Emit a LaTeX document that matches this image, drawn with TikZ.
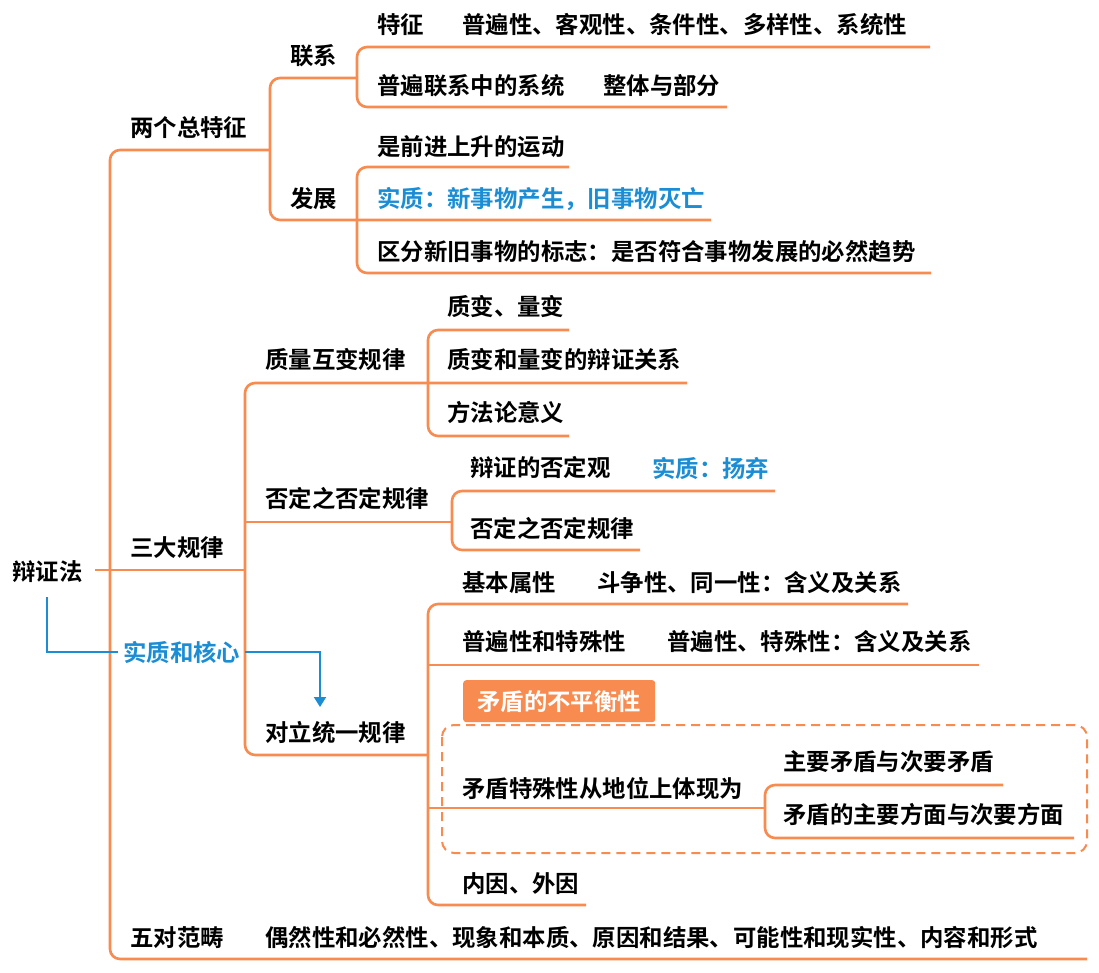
\documentclass[tikz,border=0pt]{standalone}
\usepackage{fontspec}
\setmainfont{Noto Sans CJK SC}[BoldFont={Noto Sans CJK SC Bold}]
\usetikzlibrary{arrows.meta}
\definecolor{mmorange}{RGB}{248,139,80}
\definecolor{mmblue}{RGB}{27,141,212}

\begin{document}
\begin{tikzpicture}[x=1pt, y=-1pt, font=\fontsize{23.4}{27}\selectfont\bfseries,
	txt/.style={anchor=west, inner sep=0pt},
	hint/.style={txt, text=mmblue},
	branch/.style={draw=mmorange, line width=2.6pt, rounded corners=10pt},
	pointer/.style={draw=mmblue, line width=2pt}]
	\path[use as bounding box, fill=white] (0,0) rectangle (1099,973);
	% trunk and first level
	\draw[branch] (270,150) -- (110,150) -- (110,959) -- (1087,959);
	\draw[branch] (95,570) -- (245,570);
	\draw[branch] (357,78) -- (270,78) -- (270,220) -- (711,220);
	\draw[branch] (930,47) -- (357,47) -- (357,107) -- (727,107);
	\draw[branch] (569,167) -- (357,167) -- (357,273) -- (931,273);
	\draw[branch] (687,383) -- (245,383) -- (245,755) -- (428,755);
	\draw[branch] (245,522) -- (452,522);
	\draw[branch] (569,330) -- (428,330) -- (428,436) -- (569,436);
	\draw[branch] (775,491) -- (452,491) -- (452,550) -- (640,550);
	\draw[branch] (908,604) -- (428,604) -- (428,905) -- (586,905);
	\draw[branch] (428,665) -- (979,665);
	\draw[branch] (428,808) -- (765,808);
	\draw[branch] (1003,785) -- (765,785) -- (765,838) -- (1074,838);
	\draw[mmorange, line width=2pt, dash pattern=on 9pt off 6pt, rounded corners=12pt] (442,725) rectangle (1087,853);

	\node[txt] (root) at (12,572) {辩证法};
	\node[txt] (feat) at (130,128) {两个总特征};
	\node[txt] (link) at (290,56) {联系};
	\node[txt] (dev) at (290,199) {发展};
	\node[txt] (linkA) at (377,25) {特征};
	\node[txt] (linkAa) at (462,25) {普遍性、客观性、条件性、多样性、系统性};
	\node[txt] (linkB) at (377,86) {普遍联系中的系统};
	\node[txt] (linkBa) at (603,86) {整体与部分};
	\node[txt] (devA) at (377,147) {是前进上升的运动};
	\node[hint] (devB) at (377,199) {实质：新事物产生，旧事物灭亡};
	\node[txt] (devC) at (377,252) {区分新旧事物的标志：是否符合事物发展的必然趋势};
	\node[txt] (laws) at (130,548) {三大规律};
	\node[txt] (qq) at (265,360) {质量互变规律};
	\node[txt] (qqA) at (447,307) {质变、量变};
	\node[txt] (qqB) at (447,360) {质变和量变的辩证关系};
	\node[txt] (qqC) at (447,413) {方法论意义};
	\node[txt] (neg) at (265,498) {否定之否定规律};
	\node[txt] (negA) at (470,468) {辩证的否定观};
	\node[hint] (negAa) at (652,468) {实质：扬弃};
	\node[txt] (negB) at (470,528) {否定之否定规律};
	\node[txt] (uni) at (265,733) {对立统一规律};
	\node[txt] (uniA) at (462,583) {基本属性};
	\node[txt] (uniAa) at (597,583) {斗争性、同一性：含义及关系};
	\node[txt] (uniB) at (462,642) {普遍性和特殊性};
	\node[txt] (uniBa) at (667,642) {普遍性、特殊性：含义及关系};
	\node[fill=mmorange, text=white, rounded corners=3pt, anchor=north west, minimum width=192pt, minimum height=42pt, inner sep=0pt] (imbal) at (463,680) {矛盾的不平衡性};
	\node[txt] (uniC) at (462,788) {矛盾特殊性从地位上体现为};
	\node[txt] (uniCa) at (783,762) {主要矛盾与次要矛盾};
	\node[txt] (uniCb) at (783,815) {矛盾的主要方面与次要方面};
	\node[txt] (uniD) at (462,884) {内因、外因};
	\node[txt] (five) at (130,938) {五对范畴};
	\node[txt] (fiveA) at (265,938) {偶然性和必然性、现象和本质、原因和结果、可能性和现实性、内容和形式};

	\node[hint, inner xsep=5pt] (core) at (118,652) {实质和核心};
	\coordinate (tgt) at (320,707);
	\draw[pointer] ([yshift=-14pt]root.south) |- (core.west);
	\draw[pointer, -{Triangle[width=12pt, length=10pt]}] (core.east) -| (tgt);
\end{tikzpicture}
\end{document}
